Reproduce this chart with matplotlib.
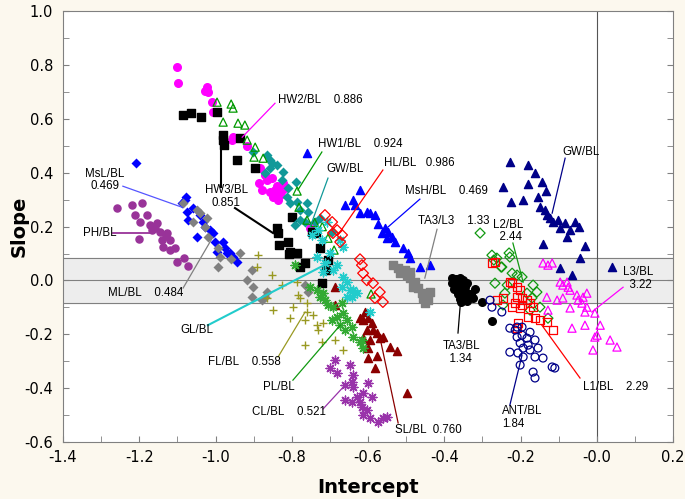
import matplotlib
matplotlib.use("Agg")
import matplotlib.pyplot as plt
import numpy as np

# ---- data: (intercept, slope) pairs for every ratio ----
ph_x = [-1.258, -1.219, -1.193, -1.211, -1.180, -1.198, -1.172, -1.153, -1.167, -1.146, -1.127, -1.140,
        -1.119, -1.138, -1.119, -1.106, -1.201, -1.101, -1.083, -1.072, -1.160, -1.130]
ph_y = [0.269, 0.280, 0.287, 0.243, 0.243, 0.217, 0.206, 0.213, 0.187, 0.180, 0.176, 0.150,
        0.150, 0.124, 0.113, 0.120, 0.154, 0.068, 0.083, 0.053, 0.195, 0.165]

msl_x = [-1.209, -1.077, -1.088, -1.075, -1.072, -1.041, -1.033, -1.028, -1.049, -1.007, -1.001, -0.980,
         -0.975, -0.970, -0.954, -0.944, -0.996, -1.014, -0.962, -1.060, -1.080]
msl_y = [0.436, 0.310, 0.287, 0.254, 0.224, 0.243, 0.217, 0.198, 0.161, 0.176, 0.143, 0.143,
         0.120, 0.102, 0.087, 0.068, 0.105, 0.187, 0.102, 0.270, 0.300]

ml_x = [-1.085, -1.059, -1.022, -1.028, -1.020, -0.993, -0.988, -0.936, -0.993, -0.904, -0.917, -0.902,
        -0.865, -0.870, -0.878, -0.904, -0.765, -0.757, -1.049, -1.040, -0.960]
ml_y = [0.287, 0.217, 0.232, 0.198, 0.161, 0.120, 0.087, 0.102, 0.050, 0.039, 0.001, -0.025,
        -0.043, -0.062, -0.073, -0.062, -0.017, -0.043, 0.261, 0.250, 0.080]

hw2_x = [-1.101, -1.098, -1.022, -1.028, -1.020, -1.009, -1.007, -0.954, -0.957, -0.917, -0.883, -0.886,
         -0.865, -0.857, -0.844, -0.831, -0.818, -0.836, -0.870, -0.852, -0.878, -0.823, -0.752, -0.840,
         -0.828, -0.848]
hw2_y = [0.792, 0.733, 0.718, 0.703, 0.699, 0.662, 0.625, 0.532, 0.521, 0.499, 0.417, 0.362,
         0.373, 0.328, 0.336, 0.317, 0.343, 0.298, 0.391, 0.380, 0.336, 0.362, 0.195, 0.350,
         0.330, 0.310]

hw3_x = [-1.085, -1.064, -1.038, -0.996, -0.980, -0.980, -0.978, -0.936, -0.944, -0.896, -0.839, -0.836,
         -0.810, -0.833, -0.805, -0.786, -0.765, -0.778, -0.799, -0.747, -0.736, -0.726, -0.705, -0.710,
         -0.721, -0.807]
hw3_y = [0.614, 0.621, 0.607, 0.625, 0.540, 0.521, 0.503, 0.529, 0.447, 0.417, 0.195, 0.176,
         0.143, 0.131, 0.105, 0.102, 0.065, 0.050, 0.235, 0.180, 0.176, 0.120, 0.076, 0.039,
         -0.010, 0.098]

hw1_x = [-0.996, -0.954, -0.959, -0.980, -0.941, -0.923, -0.917, -0.896, -0.899, -0.875, -0.786, -0.781,
         -0.760, -0.705, -0.689, -0.592, -0.740, -0.720]
hw1_y = [0.662, 0.640, 0.655, 0.588, 0.584, 0.577, 0.521, 0.495, 0.458, 0.454, 0.332, 0.272,
         0.224, 0.157, 0.113, -0.050, 0.215, 0.200]

gw_x = [-0.902, -0.857, -0.857, -0.870, -0.839, -0.826, -0.810, -0.789, -0.812, -0.805, -0.786, -0.778,
        -0.760, -0.757, -0.778, -0.765, -0.791, -0.739, -0.694, -0.865, -0.852, -0.823, -0.726]
gw_y = [0.477, 0.447, 0.417, 0.399, 0.428, 0.373, 0.343, 0.365, 0.310, 0.287, 0.291, 0.261,
        0.287, 0.254, 0.224, 0.217, 0.206, 0.217, 0.180, 0.465, 0.436, 0.402, 0.232]

gl_x = [-0.708, -0.731, -0.721, -0.747, -0.673, -0.666, -0.700, -0.713, -0.692, -0.718, -0.666, -0.647,
        -0.655, -0.629, -0.681, -0.655, -0.668, -0.639, -0.642, -0.595, -0.734]
gl_y = [0.217, 0.187, 0.150, 0.169, 0.150, 0.124, 0.102, 0.065, 0.039, 0.031, 0.013, -0.036,
        -0.062, -0.047, 0.057, -0.006, -0.025, -0.036, -0.062, -0.117, 0.087]

hl_x = [-0.713, -0.694, -0.681, -0.668, -0.673, -0.692, -0.621, -0.616, -0.613, -0.603, -0.587, -0.569,
        -0.582, -0.561]
hl_y = [0.243, 0.217, 0.187, 0.169, 0.143, 0.176, 0.079, 0.057, 0.027, 0.001, -0.010, -0.043,
        -0.065, -0.080]

fl_x = [-0.891, -0.852, -0.826, -0.786, -0.784, -0.778, -0.760, -0.760, -0.744, -0.797, -0.805, -0.849,
        -0.865, -0.765, -0.734, -0.718, -0.731, -0.721, -0.765, -0.687, -0.666, -0.889]
fl_y = [0.050, 0.020, -0.017, -0.006, -0.054, -0.065, -0.084, -0.117, -0.128, -0.099, -0.140, -0.110,
        -0.065, -0.147, -0.166, -0.158, -0.184, -0.229, -0.240, -0.221, -0.258, 0.094]

pl_x = [-0.791, -0.752, -0.734, -0.726, -0.713, -0.705, -0.718, -0.692, -0.668, -0.681, -0.655, -0.673,
        -0.642, -0.660, -0.639, -0.621, -0.613, -0.694, -0.666, -0.616]
pl_y = [0.057, -0.025, -0.036, -0.062, -0.073, -0.091, -0.047, -0.099, -0.084, -0.136, -0.147, -0.166,
        -0.173, -0.184, -0.210, -0.229, -0.251, -0.147, -0.121, -0.221]

sl_x = [-0.687, -0.621, -0.613, -0.600, -0.590, -0.587, -0.603, -0.576, -0.569, -0.561, -0.595, -0.613,
        -0.600, -0.542, -0.524, -0.576, -0.600, -0.582, -0.498, -0.608, -0.687]
sl_y = [-0.025, -0.140, -0.147, -0.140, -0.158, -0.184, -0.184, -0.195, -0.214, -0.210, -0.221, -0.214,
        -0.251, -0.247, -0.262, -0.281, -0.288, -0.325, -0.418, -0.117, -0.091]

cl_x = [-0.687, -0.647, -0.700, -0.681, -0.639, -0.642, -0.660, -0.639, -0.660, -0.642, -0.629, -0.613,
        -0.600, -0.590, -0.621, -0.616, -0.603, -0.613, -0.595, -0.574, -0.550, -0.561]
cl_y = [-0.295, -0.314, -0.325, -0.344, -0.351, -0.377, -0.388, -0.396, -0.444, -0.451, -0.433, -0.418,
        -0.381, -0.433, -0.451, -0.470, -0.481, -0.500, -0.511, -0.526, -0.507, -0.511]

msh_x = [-0.760, -0.621, -0.660, -0.639, -0.634, -0.621, -0.603, -0.595, -0.582, -0.574, -0.555, -0.563,
         -0.548, -0.550, -0.537, -0.529, -0.508, -0.495, -0.490, -0.464, -0.437]
msh_y = [0.473, 0.336, 0.280, 0.298, 0.280, 0.250, 0.254, 0.250, 0.243, 0.209, 0.195, 0.176,
         0.180, 0.157, 0.161, 0.143, 0.120, 0.102, 0.083, 0.050, 0.057]

ta3l3_x = [-0.534, -0.521, -0.503, -0.498, -0.490, -0.477, -0.482, -0.469, -0.458, -0.456, -0.443, -0.451,
           -0.437, -0.516, -0.490]
ta3l3_y = [0.057, 0.046, 0.039, 0.020, 0.009, -0.006, -0.025, -0.028, -0.047, -0.065, -0.073, -0.084,
           -0.043, 0.027, 0.031]

ta3bl_x = [-0.370, -0.360, -0.350, -0.380, -0.365, -0.355, -0.345, -0.375, -0.360, -0.350, -0.340, -0.330,
           -0.365, -0.350, -0.360, -0.325, -0.380, -0.340, -0.320, -0.355, -0.340, -0.300, -0.275]
ta3bl_y = [0.005, 0.010, 0.000, -0.010, -0.020, -0.015, -0.025, -0.030, -0.035, -0.040, -0.045, -0.050,
           -0.050, -0.060, -0.070, -0.065, 0.010, -0.010, -0.030, -0.080, -0.075, -0.080, -0.150]

l2_x = [-0.306, -0.275, -0.270, -0.251, -0.230, -0.262, -0.228, -0.249, -0.222, -0.209, -0.196, -0.267,
        -0.235, -0.241, -0.167, -0.183, -0.157, -0.170, -0.149, -0.128, -0.246, -0.175]
l2_y = [0.176, 0.094, 0.076, 0.050, 0.102, 0.083, 0.087, 0.050, 0.027, 0.020, 0.013, -0.010,
        -0.017, -0.047, -0.017, -0.047, -0.043, -0.065, -0.099, -0.140, -0.091, -0.110]

l1_x = [-0.275, -0.267, -0.228, -0.222, -0.209, -0.201, -0.209, -0.196, -0.183, -0.214, -0.196, -0.175,
        -0.222, -0.201, -0.167, -0.180, -0.162, -0.149, -0.207, -0.209, -0.115, -0.131, -0.262, -0.246]
l1_y = [0.065, 0.068, -0.006, -0.010, -0.025, -0.036, -0.062, -0.065, -0.073, -0.084, -0.091, -0.084,
        -0.099, -0.102, -0.099, -0.136, -0.140, -0.147, -0.158, -0.177, -0.184, -0.154, -0.073, -0.065]

ant_x = [-0.280, -0.275, -0.249, -0.228, -0.214, -0.209, -0.196, -0.183, -0.175, -0.201, -0.180, -0.162,
         -0.193, -0.175, -0.154, -0.228, -0.207, -0.193, -0.162, -0.141, -0.201, -0.117, -0.110, -0.167,
         -0.162, -0.209, -0.196]
ant_y = [-0.073, -0.099, -0.117, -0.177, -0.184, -0.210, -0.203, -0.214, -0.192, -0.232, -0.240, -0.221,
         -0.251, -0.258, -0.251, -0.266, -0.269, -0.284, -0.284, -0.288, -0.314, -0.321, -0.325, -0.340,
         -0.362, -0.173, -0.173]

l3_x = [-0.141, -0.128, -0.117, -0.096, -0.089, -0.078, -0.075, -0.070, -0.131, -0.104, -0.089, -0.052,
        -0.049, -0.036, -0.026, -0.039, -0.026, -0.031, -0.070, -0.005, 0.009, -0.065, -0.031, 0.001,
        -0.005, 0.035, 0.053, -0.010, -0.128]
l3_y = [0.065, 0.057, 0.065, -0.006, -0.017, -0.006, -0.025, -0.036, -0.062, -0.073, -0.065, -0.054,
        -0.073, -0.062, -0.047, -0.084, -0.099, -0.117, -0.102, -0.121, -0.166, -0.177, -0.166, -0.203,
        -0.210, -0.221, -0.247, -0.258, -0.110]

gw2_x = [-0.228, -0.180, -0.162, -0.246, -0.180, -0.144, -0.133, -0.225, -0.193, -0.154, -0.149, -0.136,
         -0.131, -0.123, -0.115, -0.102, -0.083, -0.096, -0.070, -0.078, -0.057, -0.047, -0.031, -0.141,
         -0.044, -0.096, -0.065, 0.040]
gw2_y = [0.440, 0.428, 0.399, 0.347, 0.358, 0.365, 0.332, 0.291, 0.298, 0.310, 0.272, 0.261,
         0.243, 0.232, 0.217, 0.224, 0.213, 0.195, 0.187, 0.161, 0.217, 0.198, 0.128, 0.135,
         0.083, 0.046, 0.020, 0.050]

band = 0.085
bg = "#FCF8EE"
star = (8, 2, 0)

fig = plt.figure(figsize=(6.85, 4.99), dpi=100, facecolor=bg)
ax = fig.add_axes([0.092, 0.114, 0.8905, 0.8637])
plt.rcParams["font.family"] = ["Liberation Sans", "DejaVu Sans"]

# reference band and zero lines
ax.axhspan(-band, band, color="#EDEDED", zorder=0)
ax.axhline(band, color="#808080", lw=0.8, zorder=1)
ax.axhline(-band, color="#808080", lw=0.8, zorder=1)
ax.axhline(0, color="#808080", lw=0.8, zorder=1)
ax.axvline(0, color="#555555", lw=0.8, zorder=1)

ax.scatter(ph_x, ph_y, s=26, marker="o", color="#993399", zorder=3)
ax.scatter(msl_x, msl_y, s=26, marker="D", color="#0000FF", linewidths=0, zorder=3)
ax.scatter(ml_x, ml_y, s=26, marker="D", color="#808080", linewidths=0, zorder=3)
ax.scatter(hw2_x, hw2_y, s=30, marker="o", color="#FF00FF", zorder=3)
ax.scatter(hw3_x, hw3_y, s=30, marker="s", color="black", zorder=3)
ax.scatter(hw1_x, hw1_y, s=34, marker="^", facecolors="none", edgecolors="#009900", linewidths=0.9, zorder=4)
ax.scatter(gw_x, gw_y, s=26, marker="D", color="#119999", linewidths=0, zorder=3)
ax.scatter(gl_x, gl_y, s=40, marker=star, color="#22CCCC", linewidths=1.0, zorder=4)
ax.scatter(hl_x, hl_y, s=30, marker="D", facecolors="none", edgecolors="#FF0000", linewidths=0.9, zorder=4)
ax.scatter(fl_x, fl_y, s=40, marker="+", color="#999922", linewidths=1.0, zorder=4)
ax.scatter(pl_x, pl_y, s=40, marker=star, color="#33AA33", linewidths=1.0, zorder=4)
ax.scatter(sl_x, sl_y, s=34, marker="^", color="#8B0000", zorder=3)
ax.scatter(cl_x, cl_y, s=40, marker=star, color="#9933AA", linewidths=1.0, zorder=4)
ax.scatter(msh_x, msh_y, s=34, marker="^", color="#0000FF", zorder=3)
ax.scatter(ta3l3_x, ta3l3_y, s=30, marker="s", color="#808080", zorder=3)
ax.scatter(ta3bl_x, ta3bl_y, s=30, marker="o", color="black", zorder=3)
ax.scatter(l2_x, l2_y, s=26, marker="D", facecolors="none", edgecolors="#119911", linewidths=0.9, zorder=4)
ax.scatter(l1_x, l1_y, s=34, marker="s", facecolors="none", edgecolors="#FF0000", linewidths=0.9, zorder=4)
ax.scatter(ant_x, ant_y, s=32, marker="o", facecolors="none", edgecolors="#000088", linewidths=0.9, zorder=4)
ax.scatter(l3_x, l3_y, s=34, marker="^", facecolors="none", edgecolors="#FF00FF", linewidths=0.9, zorder=4)
ax.scatter(gw2_x, gw2_y, s=34, marker="^", color="#000088", zorder=3)


def label(txt, tx, ty, x0, y0, x1, y1, color, lw=0.9, ha="left"):
    ax.text(tx, ty, txt, fontsize=8.3, ha=ha, va="center", zorder=6, linespacing=1.05)
    ax.plot([x0, x1], [y0, y1], color=color, lw=lw, zorder=5)


label("HW2/BL    0.886", -0.836, 0.670, -0.844, 0.658, -0.930, 0.532, "#FF00FF")
label("HW1/BL    0.924", -0.731, 0.506, -0.721, 0.477, -0.784, 0.336, "#009900")
label("GW/BL", -0.710, 0.413, -0.705, 0.380, -0.752, 0.198, "#119999")
label("HL/BL   0.986", -0.558, 0.436, -0.561, 0.410, -0.679, 0.169, "#FF0000")
label("MsH/BL    0.469", -0.503, 0.332, -0.464, 0.302, -0.548, 0.198, "#0000FF")
label("TA3/L3    1.33", -0.469, 0.220, -0.419, 0.190, -0.451, 0.009, "#808080")
label("L2/BL\n  2.44", -0.272, 0.184, -0.220, 0.139, -0.193, -0.006, "#119911")
label("GW/BL", -0.091, 0.477, -0.083, 0.454, -0.117, 0.250, "#000088")
label("L3/BL\n  3.22", 0.069, 0.008, 0.069, -0.025, -0.013, -0.117, "#FF00FF")
label("L1/BL    2.29", -0.036, -0.396, -0.044, -0.362, -0.144, -0.166, "#FF0000")
label("ANT/BL\n1.84", -0.249, -0.508, -0.228, -0.463, -0.196, -0.277, "#000088")
label("SL/BL  0.760", -0.529, -0.555, -0.521, -0.529, -0.569, -0.210, "#8B0000")
label("TA3/BL\n  1.34", -0.403, -0.267, -0.364, -0.195, -0.356, -0.054, "black")
label("CL/BL    0.521", -0.904, -0.488, -0.718, -0.477, -0.660, -0.388, "#9933AA")
label("PL/BL", -0.875, -0.396, -0.797, -0.370, -0.673, -0.166, "#119911")
label("FL/BL    0.558", -1.020, -0.303, -0.836, -0.284, -0.765, -0.117, "#999922")
label("GL/BL", -1.093, -0.184, -1.020, -0.166, -0.700, 0.068, "#22CCCC", lw=1.5)
label("ML/BL    0.484", -1.282, -0.047, -1.085, -0.028, -1.007, 0.161, "#808080")
label("PH/BL", -1.348, 0.176, -1.269, 0.176, -1.167, 0.176, "#993399", lw=1.3)
label("MsL/BL\n0.469", -1.290, 0.374, -1.243, 0.350, -1.088, 0.272, "#5555FF", ha="center")
label("HW3/BL\n0.851", -0.972, 0.312, -0.986, 0.347, -0.986, 0.532, "black", lw=1.5, ha="center")
ax.plot([-0.949, -0.849], [0.269, 0.176], color="black", lw=1.5, zorder=5)

ax.set_xlim(-1.4, 0.2)
ax.set_ylim(-0.6, 1.0)
ax.set_xticks(np.arange(-1.4, 0.21, 0.2))
ax.set_xticks(np.arange(-1.4, 0.21, 0.1), minor=True)
ax.set_yticks(np.arange(-0.6, 1.01, 0.2))
ax.set_yticks(np.arange(-0.6, 1.01, 0.1), minor=True)
ax.xaxis.set_major_formatter(matplotlib.ticker.FormatStrFormatter("%.1f"))
ax.yaxis.set_major_formatter(matplotlib.ticker.FormatStrFormatter("%.1f"))
ax.tick_params(which="both", direction="in", length=4, color="#808080", right=True,
               labelsize=10.5, pad=7)
ax.tick_params(axis="x", which="both", pad=6)

for s in ax.spines.values():
    s.set_color("#808080")

ax.set_xlabel("Intercept", fontsize=14, fontweight="bold", labelpad=9)
ax.set_ylabel("Slope", fontsize=14, fontweight="bold", labelpad=-3)

fig.savefig("out.png", dpi=100, facecolor=bg)
